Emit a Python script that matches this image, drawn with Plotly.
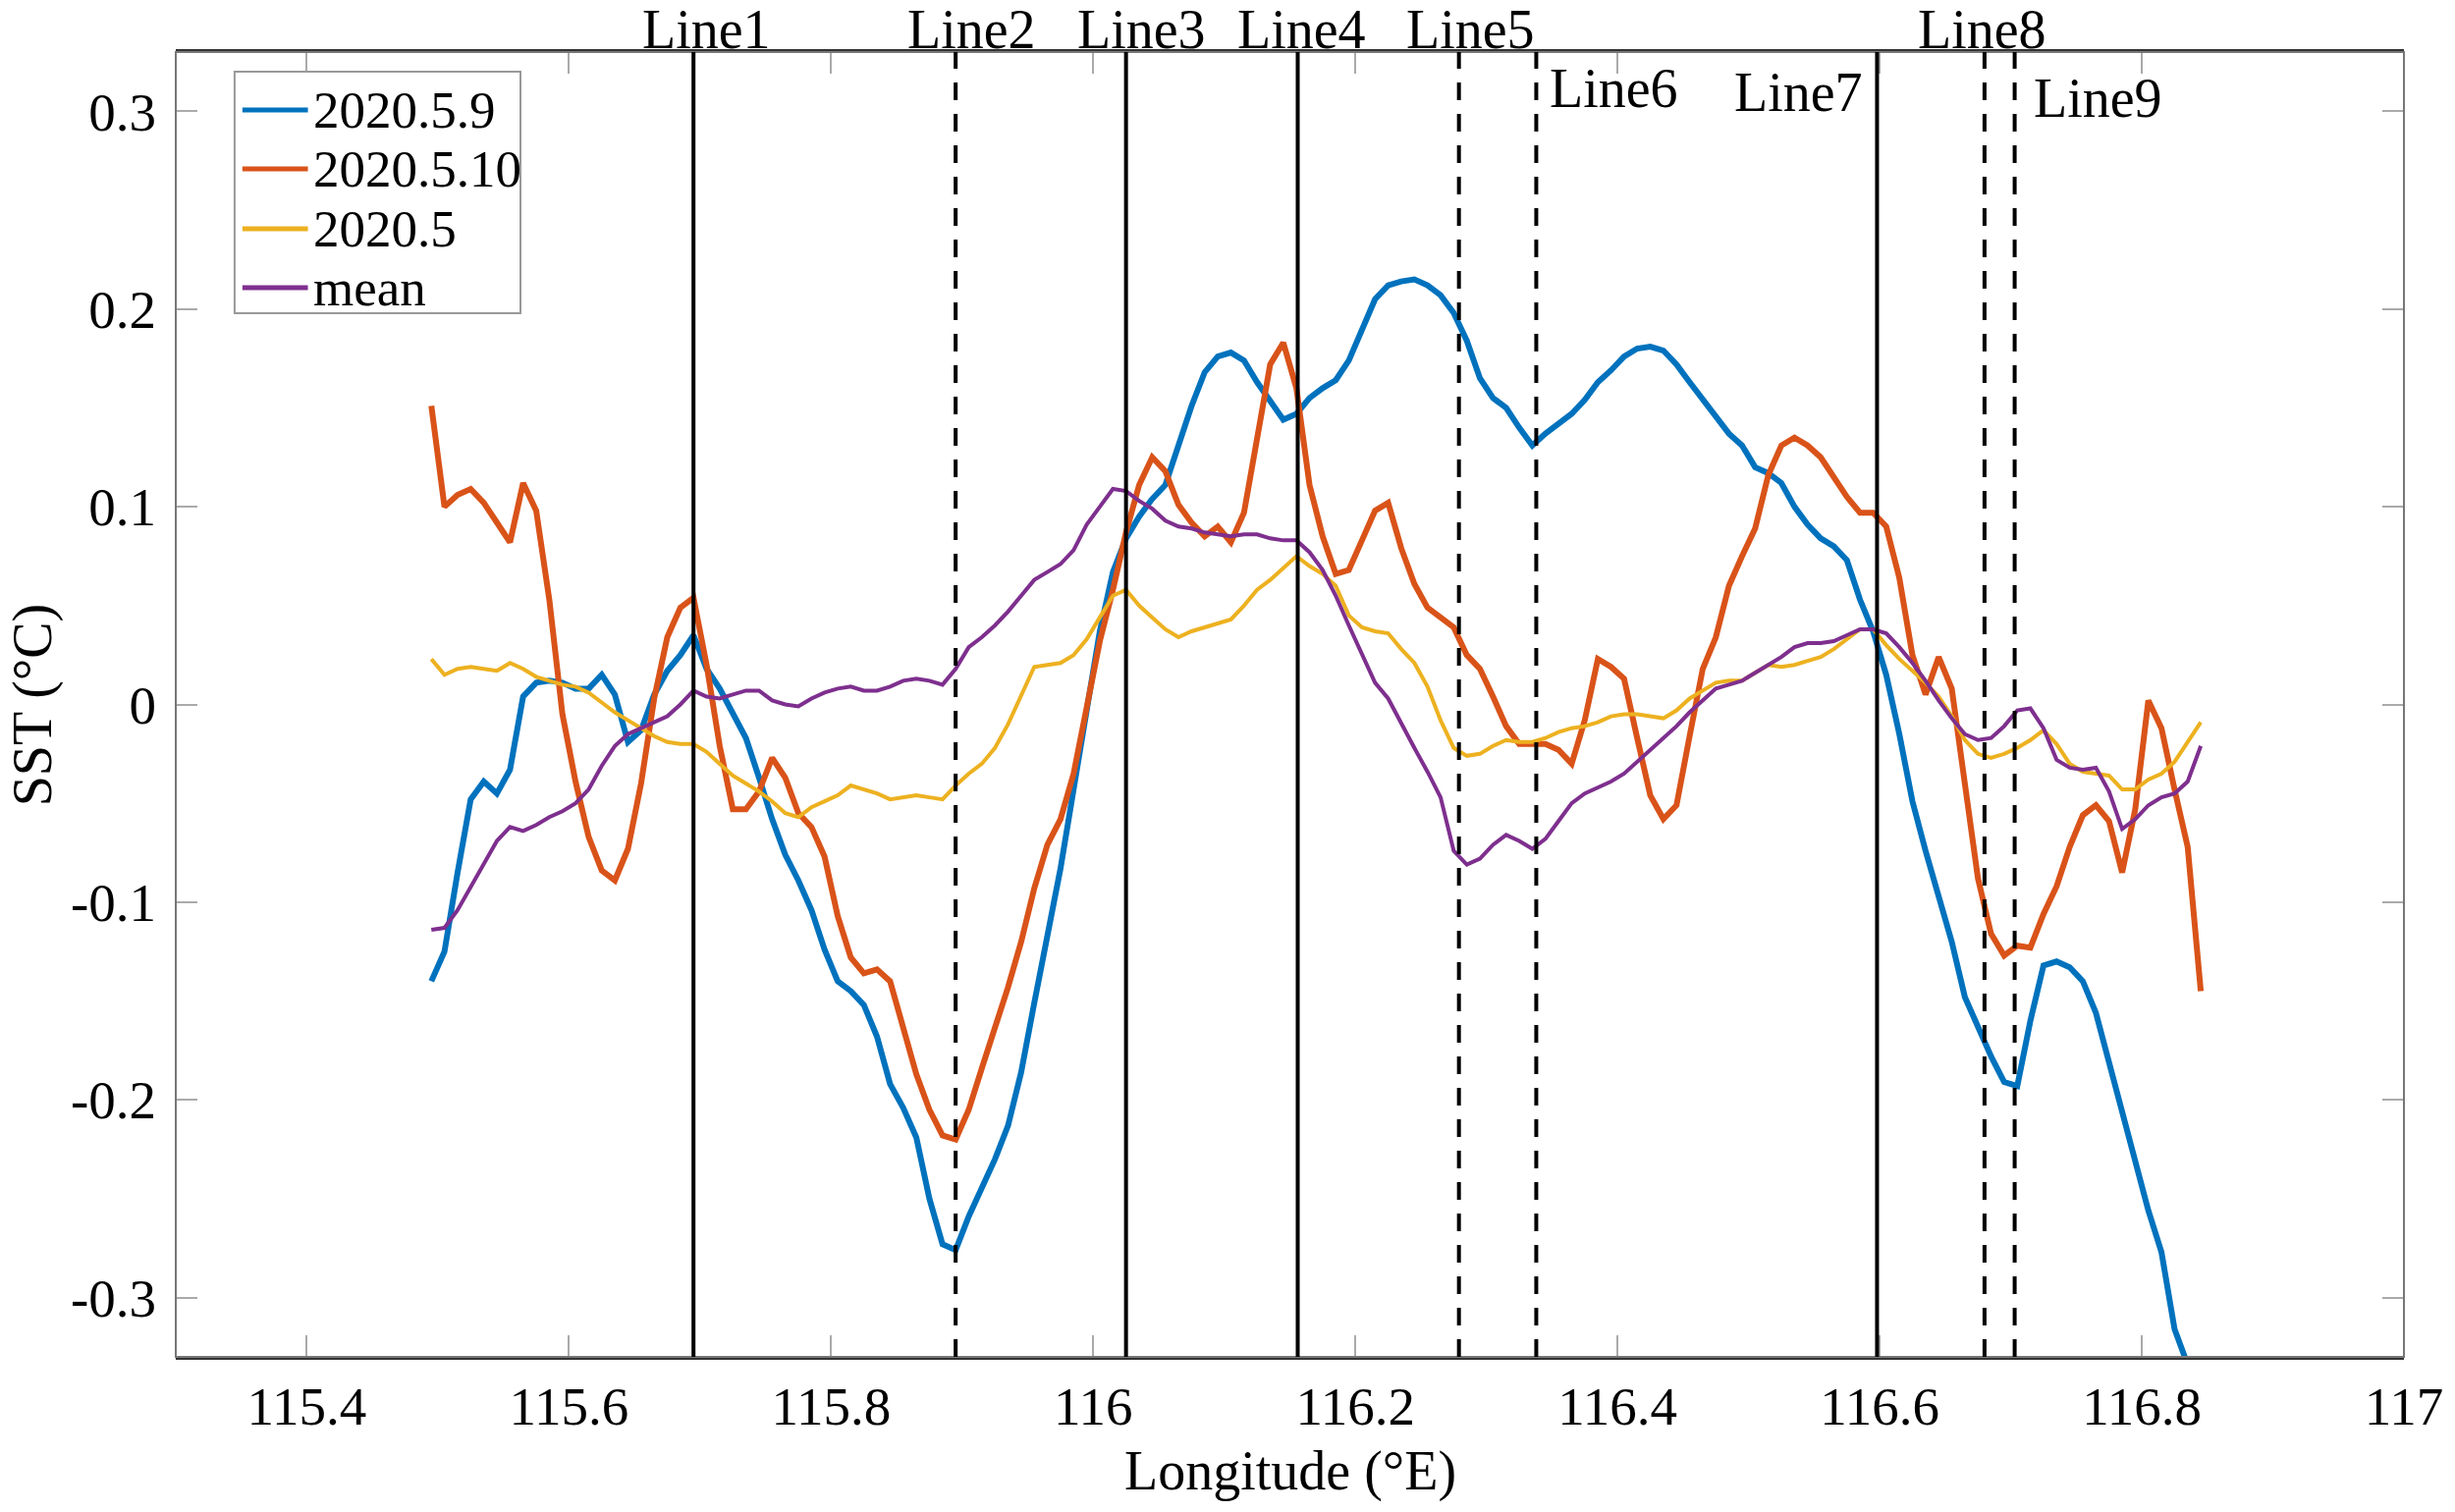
import numpy as np
import plotly.graph_objects as go

# longitude grid (deg E)
lon = np.round(np.arange(115.495, 116.8451, 0.01), 3)

sst_0509 = [
    -0.140, -0.125, -0.085, -0.048, -0.039, -0.045, -0.033, 0.004, 0.011, 0.012,
    0.011, 0.008, 0.008, 0.015, 0.005, -0.019, -0.013, 0.005, 0.017, 0.025,
    0.035, 0.018, 0.008, -0.004, -0.017, -0.037, -0.058, -0.076, -0.089, -0.104,
    -0.124, -0.140, -0.145, -0.152, -0.168, -0.192, -0.204, -0.219, -0.250, -0.273,
    -0.276, -0.259, -0.244, -0.230, -0.213, -0.186, -0.151, -0.118, -0.083, -0.043,
    -0.002, 0.037, 0.067, 0.084, 0.095, 0.104, 0.111, 0.131, 0.151, 0.168,
    0.176, 0.178, 0.174, 0.163, 0.153, 0.144, 0.147, 0.155, 0.160, 0.164,
    0.174, 0.189, 0.205, 0.212, 0.214, 0.215, 0.212, 0.207, 0.198, 0.184,
    0.165, 0.155, 0.150, 0.140, 0.131, 0.137, 0.142, 0.147, 0.154, 0.163,
    0.169, 0.176, 0.180, 0.181, 0.179, 0.172, 0.163, 0.154, 0.145, 0.137,
    0.131, 0.120, 0.117, 0.112, 0.100, 0.091, 0.084, 0.080, 0.073, 0.053,
    0.037, 0.015, -0.015, -0.049, -0.074, -0.096, -0.120, -0.148, -0.163, -0.178,
    -0.191, -0.193, -0.160, -0.132, -0.130, -0.133, -0.140, -0.156, -0.181, -0.206,
    -0.231, -0.256, -0.277, -0.316, -0.334, -0.352,
]

sst_0510 = [
    0.151, 0.100, 0.106, 0.109, 0.102, 0.092, 0.082, 0.112, 0.098, 0.053,
    -0.005, -0.039, -0.067, -0.084, -0.089, -0.073, -0.040, 0.003, 0.034, 0.049,
    0.054, 0.020, -0.021, -0.053, -0.053, -0.044, -0.027, -0.037, -0.055, -0.062,
    -0.077, -0.107, -0.128, -0.136, -0.134, -0.140, -0.163, -0.187, -0.205, -0.218,
    -0.220, -0.205, -0.184, -0.164, -0.143, -0.120, -0.093, -0.071, -0.058, -0.035,
    -0.001, 0.032, 0.058, 0.087, 0.111, 0.125, 0.118, 0.101, 0.092, 0.085,
    0.090, 0.082, 0.097, 0.133, 0.172, 0.183, 0.160, 0.111, 0.085, 0.066,
    0.068, 0.083, 0.098, 0.102, 0.079, 0.061, 0.049, 0.044, 0.039, 0.025,
    0.018, 0.004, -0.011, -0.020, -0.020, -0.020, -0.023, -0.030, -0.008, 0.023,
    0.019, 0.013, -0.017, -0.046, -0.058, -0.051, -0.016, 0.018, 0.034, 0.060,
    0.075, 0.089, 0.116, 0.131, 0.135, 0.131, 0.125, 0.115, 0.105, 0.097,
    0.097, 0.090, 0.064, 0.025, 0.005, 0.024, 0.008, -0.040, -0.088, -0.116,
    -0.127, -0.122, -0.123, -0.106, -0.092, -0.072, -0.056, -0.051, -0.059, -0.085,
    -0.053, 0.002, -0.012, -0.043, -0.072, -0.145,
]

sst_05 = [
    0.023, 0.015, 0.018, 0.019, 0.018, 0.017, 0.021, 0.018, 0.014, 0.012,
    0.010, 0.009, 0.006, 0.001, -0.004, -0.008, -0.012, -0.016, -0.019, -0.020,
    -0.020, -0.024, -0.030, -0.036, -0.040, -0.044, -0.049, -0.055, -0.057, -0.052,
    -0.049, -0.046, -0.041, -0.043, -0.045, -0.048, -0.047, -0.046, -0.047, -0.048,
    -0.041, -0.035, -0.030, -0.022, -0.010, 0.005, 0.019, 0.020, 0.021, 0.025,
    0.033, 0.044, 0.055, 0.058, 0.050, 0.044, 0.038, 0.034, 0.037, 0.039,
    0.041, 0.043, 0.050, 0.058, 0.063, 0.069, 0.075, 0.070, 0.066, 0.060,
    0.045, 0.039, 0.037, 0.036, 0.028, 0.021, 0.009, -0.008, -0.022, -0.026,
    -0.025, -0.021, -0.018, -0.019, -0.019, -0.017, -0.014, -0.012, -0.011, -0.009,
    -0.006, -0.005, -0.005, -0.006, -0.007, -0.003, 0.003, 0.007, 0.011, 0.012,
    0.012, 0.016, 0.020, 0.019, 0.020, 0.022, 0.024, 0.028, 0.033, 0.038,
    0.038, 0.030, 0.023, 0.017, 0.011, 0.004, -0.006, -0.018, -0.025, -0.027,
    -0.025, -0.022, -0.018, -0.013, -0.020, -0.030, -0.034, -0.035, -0.036, -0.043,
    -0.043, -0.038, -0.035, -0.029, -0.019, -0.009,
]

sst_mean = [
    -0.114, -0.113, -0.104, -0.092, -0.080, -0.069, -0.062, -0.064, -0.061, -0.057,
    -0.054, -0.050, -0.043, -0.031, -0.021, -0.015, -0.012, -0.009, -0.006, 0.000,
    0.007, 0.004, 0.003, 0.005, 0.007, 0.007, 0.002, 0.000, -0.001, 0.003,
    0.006, 0.008, 0.009, 0.007, 0.007, 0.009, 0.012, 0.013, 0.012, 0.010,
    0.018, 0.029, 0.034, 0.040, 0.047, 0.055, 0.063, 0.067, 0.071, 0.078,
    0.091, 0.100, 0.109, 0.108, 0.103, 0.099, 0.093, 0.090, 0.089, 0.087,
    0.086, 0.085, 0.086, 0.086, 0.084, 0.083, 0.083, 0.077, 0.068, 0.055,
    0.040, 0.025, 0.011, 0.003, -0.010, -0.022, -0.034, -0.047, -0.074, -0.081,
    -0.078, -0.071, -0.066, -0.069, -0.073, -0.068, -0.059, -0.050, -0.045, -0.042,
    -0.039, -0.035, -0.029, -0.023, -0.017, -0.011, -0.004, 0.002, 0.008, 0.010,
    0.012, 0.016, 0.020, 0.024, 0.029, 0.031, 0.031, 0.032, 0.035, 0.038,
    0.038, 0.036, 0.029, 0.021, 0.012, 0.002, -0.007, -0.015, -0.018, -0.017,
    -0.011, -0.003, -0.002, -0.012, -0.028, -0.032, -0.033, -0.032, -0.044, -0.063,
    -0.058, -0.051, -0.047, -0.045, -0.039, -0.021,
]

series_names = ["2020.5.9", "2020.5.10", "2020.5", "mean"]
series_colors = ["#0072BD", "#D95319", "#EDB120", "#7E2F8E"]

# section lines
line_names = ["Line1", "Line2", "Line3", "Line4", "Line5", "Line6", "Line7", "Line8", "Line9"]
line_lon = [115.695, 115.895, 116.025, 116.156, 116.279, 116.338, 116.598, 116.680, 116.703]
line_dash = ["solid", "dash", "solid", "solid", "dash", "dash", "solid", "dash", "dash"]

xticks = [115.4, 115.6, 115.8, 116, 116.2, 116.4, 116.6, 116.8, 117]
xticktext = ["115.4", "115.6", "115.8", "116", "116.2", "116.4", "116.6", "116.8", "117"]
yticks = [-0.3, -0.2, -0.1, 0, 0.1, 0.2, 0.3]
yticktext = ["-0.3", "-0.2", "-0.1", "0", "0.1", "0.2", "0.3"]

FONT = "Liberation Serif, Times New Roman, Tinos, serif"

fig = go.Figure()
widths = [6, 6, 4, 4]
for yv, nm, col, w in zip([sst_0509, sst_0510, sst_05, sst_mean], series_names, series_colors, widths):
    fig.add_trace(go.Scatter(x=lon, y=yv, mode="lines", name=nm,
                             line=dict(color=col, width=w), showlegend=False))

# frame
fig.add_shape(type="rect", xref="paper", yref="paper", x0=0, x1=1, y0=0, y1=1,
              line=dict(color="#777777", width=2), layer="above")

dash_map = {"solid": "solid", "dash": "18px,14px"}
for xv, d in zip(line_lon, line_dash):
    fig.add_shape(type="line", xref="x", yref="paper", x0=xv, x1=xv, y0=0, y1=1,
                  line=dict(color="black", width=4, dash=dash_map[d]), layer="above")

# labels for the lines
label_x = [115.705, 115.907, 116.037, 116.159, 116.288, 116.347, 116.589, 116.678, 116.716]
label_y = [1.017, 1.017, 1.017, 1.017, 1.017, 0.972, 0.969, 1.017, 0.965]
label_anchor = ["center", "center", "center", "center", "center", "left", "right", "center", "left"]
for name, lx, ly, anc in zip(line_names, label_x, label_y, label_anchor):
    fig.add_annotation(x=lx, y=ly, xref="x", yref="paper", text=name, showarrow=False,
                       xanchor=anc, yanchor="middle",
                       font=dict(family=FONT, size=56, color="black"))

# legend box drawn by hand (matlab style)
fig.add_shape(type="rect", xref="paper", yref="paper", x0=0.0264, x1=0.1547, y0=0.7998, y1=0.985,
              line=dict(color="#999999", width=2), fillcolor="white", layer="above")
leg_y = [0.9556, 0.9105, 0.8646, 0.8194]
for ly, nm, col in zip(leg_y, series_names, series_colors):
    fig.add_shape(type="line", xref="paper", yref="paper", x0=0.0299, x1=0.0593, y0=ly, y1=ly,
                  line=dict(color=col, width=5), layer="above")
    fig.add_annotation(x=0.0610, y=ly, xref="paper", yref="paper", text=nm, showarrow=False,
                       xanchor="left", yanchor="middle",
                       font=dict(family=FONT, size=53, color="black"))

fig.add_annotation(x=0.5, y=-0.088, xref="paper", yref="paper", text="Longitude (°E)",
                   showarrow=False, xanchor="center", yanchor="middle",
                   font=dict(family=FONT, size=56, color="black"))
fig.add_annotation(x=-0.064, y=0.5, xref="paper", yref="paper", text="SST (°C)",
                   showarrow=False, xanchor="center", yanchor="middle", textangle=-90,
                   font=dict(family=FONT, size=56, color="black"))

fig.update_layout(
    width=2500, height=1540,
    margin=dict(l=179, r=43, t=53, b=158),
    paper_bgcolor="white", plot_bgcolor="white",
    font=dict(family=FONT, size=55, color="black"),
    showlegend=False,
    xaxis=dict(range=[115.3, 117], tickvals=xticks, ticktext=xticktext,
               showgrid=False, zeroline=False, ticks="inside", ticklen=22,
               tickcolor="#aaaaaa", tickwidth=2, mirror="ticks",
               showline=True, linecolor="#333333", linewidth=3,
               ticklabelstandoff=0),
    yaxis=dict(range=[-0.33, 0.33], tickvals=yticks, ticktext=yticktext,
               showgrid=False, zeroline=False, ticks="inside", ticklen=22,
               tickcolor="#aaaaaa", tickwidth=2, mirror="ticks",
               showline=False, ticklabelstandoff=19),
)

fig.write_html("out.html", config={"displayModeBar": False},
               post_script="document.body.style.margin='0';")
